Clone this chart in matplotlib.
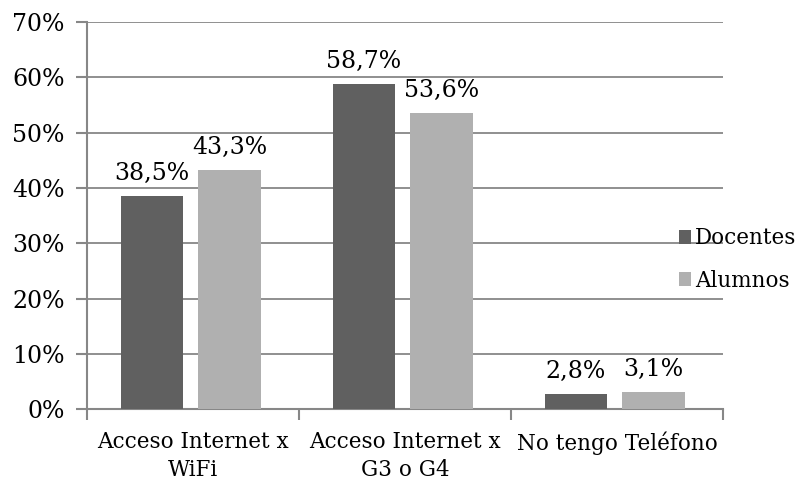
import matplotlib.pyplot as plt
import numpy as np

categorias = ["Acceso Internet x\nWiFi", "Acceso Internet x\nG3 o G4", "No tengo Teléfono"]
docentes = [38.5, 58.7, 2.8]
alumnos = [43.3, 53.6, 3.1]
etiquetas_doc = ["38,5%", "58,7%", "2,8%"]
etiquetas_alu = ["43,3%", "53,6%", "3,1%"]
yticks = [0, 10, 20, 30, 40, 50, 60, 70]

plt.rcParams['font.family'] = ['DejaVu Serif']
gris = '#878787'
fs = 17

fig = plt.figure(figsize=(8.03, 4.86), dpi=100)
ax = fig.add_axes([0.1083, 0.158, 0.792, 0.797])

x = np.arange(len(categorias))
ancho = 0.296
b1 = ax.bar(x - 0.193, docentes, ancho, color='#606060', label='Docentes', zorder=3)
b2 = ax.bar(x + 0.172, alumnos, ancho, color='#b0b0b0', label='Alumnos', zorder=3)

for barras, textos in [(b1, etiquetas_doc), (b2, etiquetas_alu)]:
    for rect, txt in zip(barras, textos):
        ax.text(rect.get_x() + rect.get_width() / 2, rect.get_height() + 2.0, txt,
                ha='center', va='bottom', fontsize=fs)

ax.set_xlim(-0.5, 2.5)
ax.set_ylim(0, 70)
ax.set_yticks(yticks)
ax.set_yticklabels([f"{v}%" for v in yticks], fontsize=fs)
ax.yaxis.grid(True, color=gris, linewidth=1.3, zorder=0)

# ticks de separación entre categorías, etiquetas en el centro
ax.set_xticks([-0.5, 0.5, 1.5, 2.5])
ax.set_xticklabels([])
ax.set_xticks(x, minor=True)
ax.set_xticklabels(categorias, minor=True, fontsize=15.5, linespacing=1.3)
ax.tick_params(axis='x', which='minor', length=0, pad=16)
ax.tick_params(axis='x', which='major', length=8, width=1.5, color=gris, direction='out')
ax.tick_params(axis='y', length=8, width=1.5, color=gris, direction='out', pad=8)

for s in ['top', 'right']:
    ax.spines[s].set_visible(False)
for s in ['left', 'bottom']:
    ax.spines[s].set_color(gris)
    ax.spines[s].set_linewidth(1.5)

fig.legend(handles=[b1, b2], loc='center left', bbox_to_anchor=(0.845, 0.466),
           frameon=False, fontsize=15.5, handlelength=0.6, handleheight=0.6,
           handletextpad=0.15, labelspacing=0.95, borderaxespad=0,
           borderpad=0)

fig.savefig('out.png', dpi=100)
